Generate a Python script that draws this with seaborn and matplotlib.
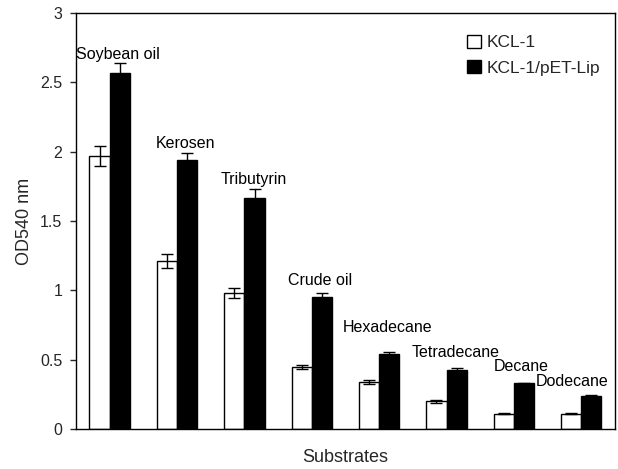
import numpy as np
import pandas as pd
import matplotlib
matplotlib.use("Agg")
import matplotlib.pyplot as plt
import seaborn as sns

substrates = ["Soybean oil", "Kerosen", "Tributyrin", "Crude oil",
              "Hexadecane", "Tetradecane", "Decane", "Dodecane"]
strains = ["KCL-1", "KCL-1/pET-Lip"]
kcl1 = [1.97, 1.21, 0.98, 0.45, 0.34, 0.20, 0.11, 0.11]
kcl1_err = [0.075, 0.05, 0.035, 0.015, 0.015, 0.008, 0.004, 0.004]
pet_lip = [2.57, 1.94, 1.67, 0.95, 0.54, 0.43, 0.33, 0.24]
pet_lip_err = [0.07, 0.05, 0.06, 0.03, 0.015, 0.008, 0.004, 0.004]
y_ticks = [0, 0.5, 1, 1.5, 2, 2.5, 3]
y_tick_labels = ["0", "0.5", "1", "1.5", "2", "2.5", "3"]

# label placement around each group: (x shift from group centre, height)
label_dx = [0.12, 0.12, 0.14, 0.12, 0.12, 0.13, 0.11, -0.13]
label_y = [2.70, 2.06, 1.80, 1.075, 0.73, 0.55, 0.455, 0.345]

df = pd.DataFrame({
    "Substrate": substrates * 2,
    "Strain": [strains[0]] * len(substrates) + [strains[1]] * len(substrates),
    "OD": kcl1 + pet_lip,
    "err": kcl1_err + pet_lip_err,
})

sns.set_style("white")
plt.rcParams["font.family"] = ["Liberation Sans", "DejaVu Sans"]

fig = plt.figure(figsize=(6.18, 4.69), dpi=100)
ax = fig.add_axes([0.123, 0.085, 0.872, 0.887])

sns.barplot(data=df, x="Substrate", y="OD", hue="Strain", order=substrates,
            hue_order=strains, palette=["white", "black"], width=0.6,
            edgecolor="black", linewidth=1.0, errorbar=None, ax=ax)

for cont, errs, vals in zip(ax.containers, [kcl1_err, pet_lip_err], [kcl1, pet_lip]):
    xs = [b.get_x() + b.get_width() / 2 for b in cont]
    ax.errorbar(xs, vals, yerr=errs, fmt="none", ecolor="black",
                elinewidth=1.0, capsize=4, capthick=1.0, zorder=5)

for i, name in enumerate(substrates):
    ax.text(i + label_dx[i], label_y[i], name, ha="center", va="center",
            fontsize=11.5, color="black")

ax.set_xlim(-0.5, len(substrates) - 0.5)
ax.set_ylim(0, 3)
ax.set_yticks(y_ticks)
ax.set_yticklabels(y_tick_labels, fontsize=11.5)
ax.set_xticks([])
ax.set_xlabel("Substrates", fontsize=13, labelpad=14)
ax.set_ylabel("OD540 nm", fontsize=13, labelpad=5)
ax.tick_params(axis="y", direction="out", length=4, width=1, left=True, pad=6)

for sp in ax.spines.values():
    sp.set_visible(True)
    sp.set_color("black")
    sp.set_linewidth(1.0)

leg = ax.legend(loc="upper right", bbox_to_anchor=(0.985, 0.965), frameon=False,
                fontsize=12.5, handlelength=0.8, handleheight=0.8,
                handletextpad=0.3, labelspacing=0.55, borderaxespad=0)
for h in leg.legend_handles:
    h.set_edgecolor("black")
    h.set_linewidth(1.0)

fig.savefig("out.png", dpi=100)
